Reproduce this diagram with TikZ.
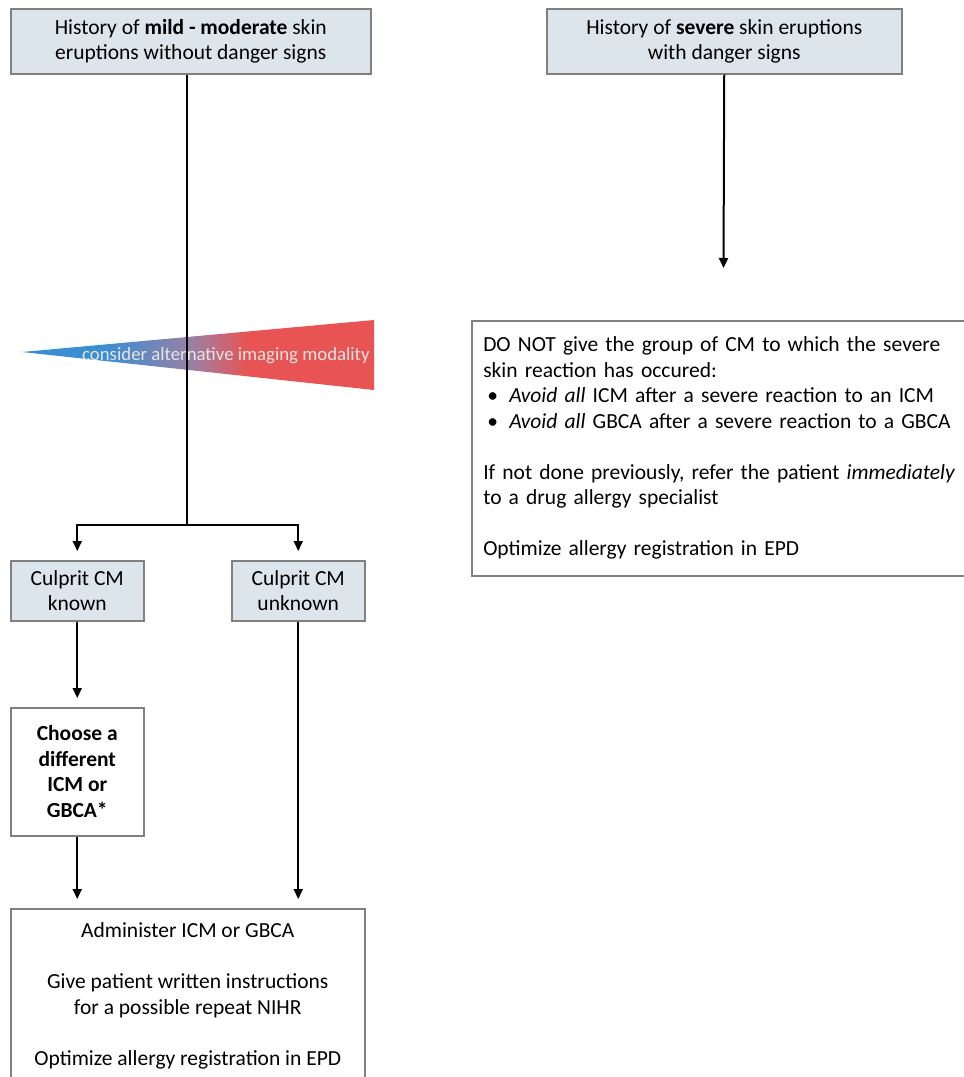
\documentclass[tikz,border=0pt]{standalone}
\usepackage{fontspec}
\setmainfont{Carlito}
\usetikzlibrary{arrows.meta}

\definecolor{boxfill}{HTML}{DCE4EC}
\definecolor{boxline}{HTML}{808080}
\definecolor{modblue}{HTML}{3A8ED2}
\definecolor{modpurple}{HTML}{9A80A6}
\definecolor{modred}{HTML}{E85454}

\pgfdeclarehorizontalshading{modality}{100bp}{color(0bp)=(modblue); color(37bp)=(modblue); color(49bp)=(modpurple); color(57bp)=(modred); color(100bp)=(modred)}

\begin{document}
\begin{tikzpicture}[x=0.5pt, y=-0.5pt,
    every node/.style={font=\fontsize{10.75}{12.75}\selectfont, inner sep=0pt},
    greybox/.style={draw=boxline, line width=0.75pt, fill=boxfill, anchor=north west, align=center},
    whitebox/.style={draw=boxline, line width=0.75pt, fill=white, anchor=north west},
    arr/.style={-{Triangle[length=5pt, width=4.5pt]}, line width=1pt, shorten >=4.5pt}]
    \useasboundingbox (0,0) rectangle (964,1077);
    % top boxes
    \node [greybox, minimum width=180pt, minimum height=32.5pt] (mild) at (10,8)
      {History of \textbf{mild - moderate} skin\\ eruptions without danger signs};
    \node [greybox, minimum width=177.5pt, minimum height=32.5pt] (severe) at (546,8)
      {History of \textbf{severe} skin eruptions\\ with danger signs};
    % gradient wedge
    \shade [shading=modality] (22,352) -- (374,320) -- (374,390) -- cycle;
    \node [anchor=base east, text=white!90!black, font=\fontsize{9.4}{11}\selectfont] (modality) at (370,360)
      {consider alternative imaging modality};
    % left branch
    \node [greybox, minimum width=66.5pt, minimum height=30pt] (known) at (10,560) {Culprit CM\\ known};
    \node [greybox, minimum width=66.5pt, minimum height=30pt] (unknown) at (231,560) {Culprit CM\\ unknown};
    \node [whitebox, align=center, font=\fontsize{10.75}{12.75}\selectfont\bfseries,
      minimum width=66.5pt, minimum height=64pt] (choose) at (10,707)
      {Choose a\\ different\\ ICM or\\ GBCA*};
    \node [whitebox, align=center, minimum width=177pt, minimum height=87pt] (admin) at (10,908)
      {Administer ICM or GBCA\\[12.75pt]
       Give patient written instructions\\ for a possible repeat NIHR\\[12.75pt]
       Optimize allergy registration in EPD};
    % right branch
    \node [whitebox, align=left, text width=236pt, minimum width=247.5pt, minimum height=127.5pt] (avoid) at (471,320)
      {DO NOT give the group of CM to which the severe\\
       skin reaction has occured:\\
       \hspace*{2pt}\makebox[11pt][l]{\textbullet}\textit{Avoid all} ICM after a severe reaction to an ICM\\
       \hspace*{2pt}\makebox[11pt][l]{\textbullet}\textit{Avoid all} GBCA after a severe reaction to a GBCA\\[12.75pt]
       If not done previously, refer the patient \textit{immediately}\\
       to a drug allergy specialist\\[12.75pt]
       Optimize allergy registration in EPD};
    % connectors
    \coordinate (split) at (187,525);
    \coordinate (stop) at (723.5,268);
    \draw [line width=1pt] (mild.south -| split) -- (split);
    \draw [arr] (split) -| (known.north);
    \draw [arr] (split) -| (unknown.north);
    \draw [arr, shorten >=0pt] (severe.south) -- (stop);
    \draw [arr] (known) -- (choose);
    \draw [arr] (choose) -- (choose |- admin.north);
    \draw [arr] (unknown) -- (unknown |- admin.north);
\end{tikzpicture}
\end{document}
